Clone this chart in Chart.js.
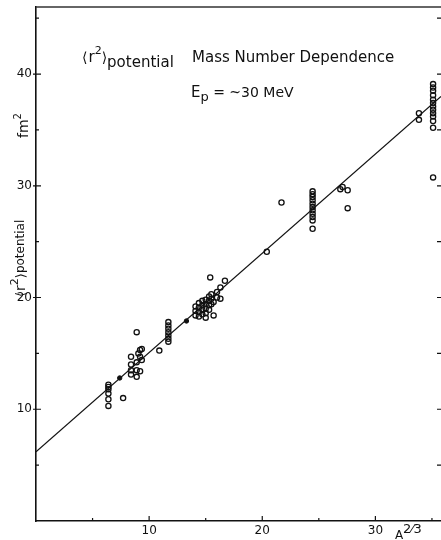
<!DOCTYPE html>
<html><head><meta charset="utf-8">
<script src="https://cdn.jsdelivr.net/npm/chart.js@4"></script>
<style>html,body{margin:0;padding:0;background:#fff;}canvas{display:block}</style>
</head><body>
<canvas id="c" width="441" height="540"></canvas>
<script>
// ---- data (x = A^(2/3), y = <r^2>potential in fm^2) ----
const lightX = [6.4, 6.4, 6.4, 6.4, 6.4, 6.4, 7.7, 8.4, 8.4, 8.4, 8.4, 8.9, 8.9, 8.9, 8.9, 9.05, 9.2, 9.2, 9.2, 9.35, 9.35, 10.9];
const lightY = [12.2, 12.0, 11.8, 11.4, 10.9, 10.3, 11.0, 14.7, 14.0, 13.5, 13.1, 12.9, 13.5, 14.2, 16.9, 15.0, 15.3, 14.7, 13.4, 15.4, 14.4, 15.25];
const caX = [11.7, 11.7, 11.7, 11.7, 11.7, 11.7, 11.7];
const caY = [17.8, 17.5, 17.2, 16.9, 16.6, 16.3, 16.05];
const midX = [14.1, 14.1, 14.1, 14.4, 14.4, 14.4, 14.4, 14.7, 14.7, 14.7, 14.7, 15.0, 15.0, 15.0, 15.0, 15.0, 15.3, 15.3, 15.3, 15.3, 15.5, 15.5, 15.5, 15.7, 15.7, 16.0, 16.0, 16.3, 16.3, 16.7, 15.4];
const midY = [18.4, 18.8, 19.2, 18.3, 18.7, 19.1, 19.5, 18.5, 18.9, 19.3, 19.7, 18.2, 18.6, 19.0, 19.4, 19.8, 18.9, 19.3, 19.7, 20.1, 19.4, 19.9, 20.3, 18.4, 19.6, 20.0, 20.5, 19.9, 20.9, 21.5, 21.8];
const heavyX = [20.4, 21.7, 24.45, 24.45, 24.45, 24.45, 24.45, 24.45, 24.45, 24.45, 24.45, 24.45, 24.45, 26.9, 27.1, 27.55, 27.55];
const heavyY = [24.1, 28.5, 29.5, 29.25, 29.0, 28.7, 28.4, 28.1, 27.8, 27.5, 27.2, 26.9, 26.15, 29.7, 29.9, 29.6, 28.0];
const pbX = [33.85, 33.85, 35.1, 35.1, 35.1, 35.1, 35.1, 35.1, 35.1, 35.1, 35.1, 35.1, 35.1, 35.1, 35.1];
const pbY = [36.5, 35.9, 39.1, 38.8, 38.5, 38.1, 37.7, 37.4, 37.1, 36.8, 36.5, 36.2, 35.8, 35.2, 30.75];
const dotX = [7.4, 13.3];
const dotY = [12.8, 17.9];
const fitX = [0, 35.8];
const fitY = [6.2, 38.0];
const xTickLabels = [10, 20, 30];
const yTickLabels = [10, 20, 30, 40];
const xRange = [0, 35.8];
const yRange = [0, 46];

const FONT = "'DejaVu Sans', sans-serif";
const INK = '#111';

function pts(xs, ys) { return xs.map((x, i) => ({ x: x, y: ys[i] })); }
const openPts = [].concat(pts(lightX, lightY), pts(caX, caY), pts(midX, midY), pts(heavyX, heavyY), pts(pbX, pbY));

function drawRuns(ctx, x, y, runs) {
  let cx = x;
  for (const r of runs) {
    ctx.font = r.size + 'px ' + FONT;
    ctx.fillText(r.t, cx, y + (r.dy || 0));
    cx += ctx.measureText(r.t).width + (r.gap || 0);
  }
}

const decor = {
  id: 'decor',
  afterDraw(chart) {
    const ctx = chart.ctx, a = chart.chartArea;
    const xs = chart.scales.x, ys = chart.scales.y;
    ctx.save();
    ctx.strokeStyle = '#333';
    ctx.lineWidth = 1.5;
    ctx.beginPath(); ctx.moveTo(a.left, a.top); ctx.lineTo(a.right, a.top); ctx.stroke();
    ctx.strokeStyle = INK;
    ctx.lineWidth = 1.2;
    for (let v = 5; v <= 45; v += 5) {
      const py = ys.getPixelForValue(v);
      const major = v % 10 === 0;
      ctx.beginPath();
      ctx.moveTo(a.left - (major ? 3 : 0), py); ctx.lineTo(a.left + (major ? 5 : 3), py);
      ctx.moveTo(a.right - 4, py); ctx.lineTo(a.right, py);
      ctx.stroke();
    }
    for (let v = 5; v <= 35; v += 5) {
      const px = xs.getPixelForValue(v);
      const major = v % 10 === 0;
      ctx.beginPath();
      ctx.moveTo(px, a.bottom); ctx.lineTo(px, a.bottom - (major ? 5 : 3));
      ctx.stroke();
    }
    ctx.fillStyle = INK;
    ctx.textBaseline = 'alphabetic';
    ctx.textAlign = 'left';
    // title lines
    drawRuns(ctx, 82, 62, [
      { t: '⟨', size: 14, gap: 1 }, { t: 'r', size: 15 }, { t: '2', size: 11, dy: -8 },
      { t: '⟩', size: 14 }, { t: 'potential', size: 15, dy: 5 }
    ]);
    drawRuns(ctx, 192, 62, [{ t: 'Mass Number Dependence', size: 15 }]);
    drawRuns(ctx, 191, 97, [{ t: 'E', size: 15 }, { t: 'p', size: 13, dy: 4 }, { t: ' = ~30 MeV', size: 14 }]);
    // x axis title
    drawRuns(ctx, 395, 539, [{ t: 'A', size: 12 }]);
    drawRuns(ctx, 403, 533, [{ t: '2⁄3', size: 13 }]);
    // y axis titles (rotated)
    ctx.save();
    ctx.translate(25, 297); ctx.rotate(-Math.PI / 2);
    drawRuns(ctx, 0, 0, [
      { t: '⟨', size: 13, gap: 1 }, { t: 'r', size: 14 }, { t: '2', size: 11, dy: -7 },
      { t: '⟩', size: 13 }, { t: 'potential', size: 12, dy: -1 }
    ]);
    ctx.restore();
    ctx.save();
    ctx.translate(28, 138); ctx.rotate(-Math.PI / 2);
    drawRuns(ctx, 0, 0, [{ t: 'fm', size: 14 }, { t: '2', size: 10, dy: -7 }]);
    ctx.restore();
    ctx.restore();
  }
};

new Chart(document.getElementById('c'), {
  type: 'scatter',
  data: {
    datasets: [
      { data: pts(fitX, fitY), showLine: true, pointRadius: 0, borderColor: INK, borderWidth: 1.2, fill: false, order: 2 },
      { data: openPts, pointRadius: 2.6, borderWidth: 1.3, borderColor: INK, backgroundColor: 'rgba(255,255,255,0)', order: 1 },
      { data: pts(dotX, dotY), pointRadius: 2.2, borderWidth: 1, borderColor: INK, backgroundColor: INK, order: 1 }
    ]
  },
  options: {
    responsive: false,
    devicePixelRatio: 1,
    animation: false,
    layout: { autoPadding: false, padding: { top: 7, right: 0, left: 0, bottom: 0 } },
    plugins: { legend: { display: false }, tooltip: { enabled: false } },
    scales: {
      x: {
        type: 'linear', min: xRange[0], max: xRange[1],
        border: { display: true, color: INK, width: 1.6 },
        grid: { display: false, drawTicks: false },
        ticks: {
          stepSize: 5, autoSkip: false, maxRotation: 0, padding: 3, color: INK,
          font: { family: FONT, size: 12 },
          callback: v => xTickLabels.includes(v) ? String(v) : ''
        },
        afterFit: s => { s.height = 19; s.paddingLeft = 0; s.paddingRight = 0; }
      },
      y: {
        type: 'linear', min: yRange[0], max: yRange[1],
        border: { display: true, color: INK, width: 1.6 },
        grid: { display: false, drawTicks: false },
        ticks: {
          stepSize: 5, autoSkip: false, padding: 4, color: INK,
          font: { family: FONT, size: 12 },
          callback: v => yTickLabels.includes(v) ? String(v) : ''
        },
        afterFit: s => { s.width = 36; s.paddingTop = 0; s.paddingBottom = 0; }
      }
    }
  },
  plugins: [decor]
});
</script>
</body></html>
